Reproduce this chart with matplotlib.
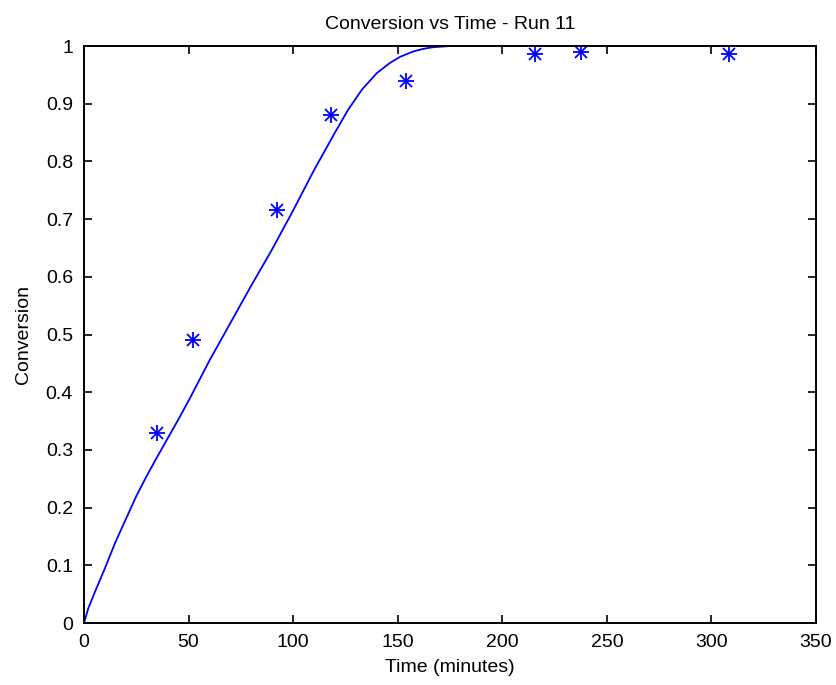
import matplotlib.pyplot as plt
import numpy as np

# measured conversion
t_data = [34.8, 52.3, 92.5, 118.2, 153.8, 215.6, 237.6, 308.4]
x_data = [0.330, 0.490, 0.715, 0.880, 0.940, 0.986, 0.990, 0.986]

# model curve
t_model = [0, 2, 5, 10, 15, 20, 25, 30, 35, 40, 45, 50.7, 60, 70, 80, 89.7,
           100, 110, 120, 126.2, 133, 140, 146, 151, 157, 162, 167, 175, 185, 193]
x_model = [0, 0.025, 0.052, 0.095, 0.14, 0.18, 0.22, 0.255, 0.288, 0.32, 0.352,
           0.39, 0.455, 0.52, 0.585, 0.646, 0.715, 0.785, 0.85, 0.889, 0.925,
           0.953, 0.970, 0.981, 0.990, 0.995, 0.998, 1.0, 1.0, 1.0]

plt.rcParams['font.family'] = ['Liberation Sans', 'DejaVu Sans']
fs = 14

fig = plt.figure(figsize=(8.36, 6.85), dpi=100)
ax = fig.add_axes([0.1005, 0.0905, 0.8755, 0.8423])

ax.plot(t_model, x_model, color='#0000ff', lw=1.3)
# asterisk marker: plus and cross on top of each other
ax.plot(t_data, x_data, ls='none', marker='+', color='#0000ff', ms=12, mew=1.3)
ax.plot(t_data, x_data, ls='none', marker='x', color='#0000ff', ms=8.5, mew=1.3)

ax.set_xlim(0, 350)
ax.set_ylim(0, 1)
ax.set_xticks(np.arange(0, 351, 50))
ax.set_yticks(np.arange(0, 1.01, 0.1))
ax.set_yticklabels(['0', '0.1', '0.2', '0.3', '0.4', '0.5', '0.6', '0.7', '0.8', '0.9', '1'])
ax.tick_params(direction='in', top=True, right=True, length=6, width=1.2,
               labelsize=fs, pad=8)
for s in ax.spines.values():
    s.set_linewidth(1.4)

ax.set_xlabel('Time (minutes)', fontsize=fs, labelpad=6)
ax.set_ylabel('Conversion', fontsize=fs, labelpad=10)
ax.set_title('Conversion vs Time - Run 11', fontsize=fs, pad=12)

fig.savefig('out.png', dpi=100)
